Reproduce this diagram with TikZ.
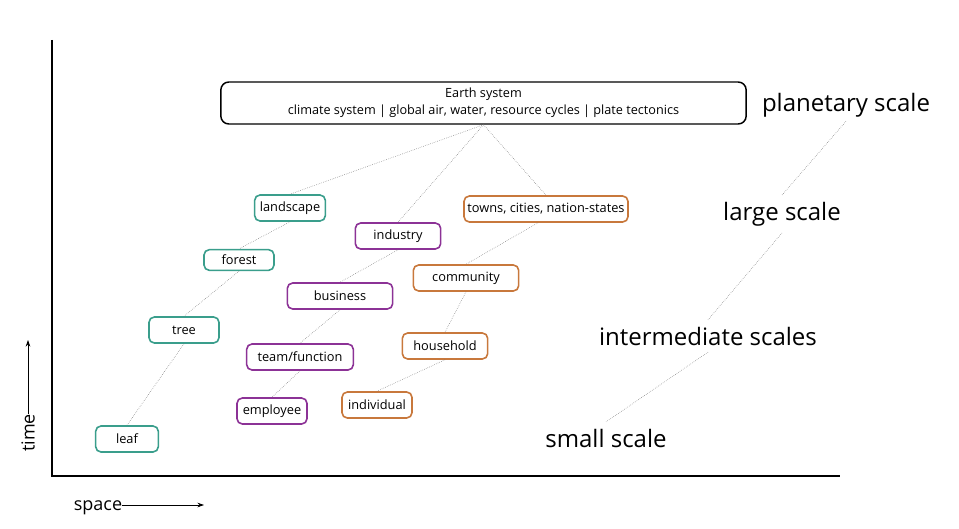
\documentclass[tikz,border=0pt]{standalone}
\usepackage{fontspec}
\setmainfont{Open Sans}
\usetikzlibrary{arrows.meta}

\definecolor{natureteal}{HTML}{3A9E8C}
\definecolor{orgpurple}{HTML}{8C3296}
\definecolor{socorange}{HTML}{C8783C}

\tikzset{
  unitbox/.style={draw, rounded corners=4pt, line width=1.2pt, inner sep=0pt,
    minimum height=19.5pt, font=\fontsize{9.6}{11}\selectfont},
  nature/.style={unitbox, draw=natureteal},
  org/.style={unitbox, draw=orgpurple},
  social/.style={unitbox, draw=socorange},
  scalelabel/.style={inner sep=0pt, font=\fontsize{18}{20}\selectfont},
  link/.style={densely dotted, black!55, line width=0.4pt},
}

\begin{document}
\begin{tikzpicture}[x=0.75pt, y=-0.75pt]
        \useasboundingbox (0,0) rectangle (959,528);
        % axes
        \draw[line width=1.1pt] (52,40) -- (52,476) -- (840,476);
        \node[rotate=90, inner sep=0pt, font=\fontsize{13.5}{15}\selectfont] (time) at (28,433) {time};
        \coordinate (timetip) at (28,340);
        \draw[-{Stealth[length=5pt,width=3.5pt]}, line width=0.6pt] (time.east) -- (timetip);
        \node[inner sep=0pt, font=\fontsize{13.5}{15}\selectfont] (space) at (98,508) {space};
        \coordinate (spacetip) at (204,505);
        \draw[-{Stealth[length=5pt,width=3.5pt]}, line width=0.6pt] (space.east |- spacetip) -- (spacetip);
        % top box
        \node[draw, rounded corners=6pt, line width=1.1pt, minimum width=394pt, minimum height=31.5pt,
          align=center, font=\fontsize{9.5}{12.7}\selectfont] (earth) at (483.5,103)
          {Earth system\\climate system | global air, water, resource cycles | plate tectonics};
        % nature
        \node[nature, minimum width=53pt] (landscape) at (290,208) {landscape};
        \node[nature, minimum width=52.5pt, minimum height=15.5pt] (forest) at (239,260) {forest};
        \node[nature, minimum width=52.5pt] (tree) at (184,330) {tree};
        \node[nature, minimum width=47pt] (leaf) at (127,439) {leaf};
        % organisations
        \node[org, minimum width=64pt] (industry) at (398,236) {industry};
        \node[org, minimum width=79pt] (business) at (340,296) {business};
        \node[org, minimum width=80pt] (team) at (300,357) {team/function};
        \node[org, minimum width=52.5pt] (employee) at (272,411) {employee};
        % people
        \node[social, minimum width=123pt] (towns) at (546,209) {towns, cities, nation-states};
        \node[social, minimum width=79pt] (community) at (466,278) {community};
        \node[social, minimum width=64pt] (household) at (445,346) {household};
        \node[social, minimum width=52.5pt] (individual) at (377,405) {individual};
        % scales
        \node[scalelabel] (planetary) at (846,105) {planetary scale};
        \node[scalelabel] (large) at (782,214) {large scale};
        \node[scalelabel] (intermediate) at (708,336) {intermediate scales};
        \node[scalelabel] (small) at (606,438) {small scale};
        % links
        \draw[link] (earth.south) -- (landscape.north);
        \draw[link] (earth.south) -- (industry.north);
        \draw[link] (earth.south) -- (towns.north);
        \draw[link] (landscape.south) -- (forest.north);
        \draw[link] (forest.south) -- (tree.north);
        \draw[link] (tree.south) -- (leaf.north);
        \draw[link] (industry.south) -- (business.north);
        \draw[link] (business.south) -- (team.north);
        \draw[link] (team.south) -- (employee.north);
        \draw[link] ([xshift=-6pt]towns.south) -- (community.north);
        \draw[link] (community.south) -- (household.north);
        \draw[link] (household.south) -- (individual.north);
        \draw[link] ([yshift=-3pt]planetary.south) -- ([yshift=5pt]large.north);
        \draw[link] ([yshift=-5pt]large.south) -- ([yshift=5pt]intermediate.north);
        \draw[link] ([yshift=-5pt]intermediate.south) -- ([yshift=5pt]small.north);
    \end{tikzpicture}
\end{document}
